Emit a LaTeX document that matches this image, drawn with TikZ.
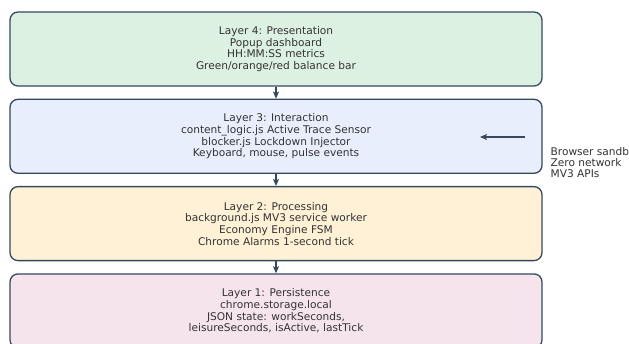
\documentclass[tikz,border=0pt]{standalone}
\usepackage{fontspec}
\setmainfont{DejaVu Sans}
\usepackage{tikz}
\usetikzlibrary{positioning}
\usetikzlibrary{arrows.meta}
\definecolor{edgeblue}{HTML}{34495E}
\definecolor{textgray}{HTML}{333333}
\definecolor{greenfill}{HTML}{DDF1E2}
\definecolor{bluefill}{HTML}{E8EEFB}
\definecolor{yellowfill}{HTML}{FEF1D6}
\definecolor{pinkfill}{HTML}{F6E4EC}

\begin{document}
\begin{tikzpicture}[
            x = 1pt, y = -1pt,
            > = {Stealth[length=7pt, width=6pt, inset=1.5pt]}, % arrow head style
            node distance = 12pt, % gap between layers
            semithick % line style
        ]

        \tikzstyle{layer}=[
            draw = edgeblue,
            line width = 1.3pt,
            rounded corners = 8pt,
            minimum width = 532pt,
            minimum height = 74pt,
            align = center,
            text = textgray,
            font = \fontsize{10.6}{11.7}\selectfont
        ]
        \tikzstyle{link}=[->, draw = edgeblue, fill = edgeblue, line width = 1.1pt]

        \useasboundingbox (0,0) rectangle (629,343);
        \clip (0,0) rectangle (629,343);

	% layers, top to bottom
        \node[layer, fill = greenfill] (L4) at (276,49) {Layer 4: Presentation\\Popup dashboard\\HH:MM:SS metrics\\Green/orange/red balance bar};
        \node[layer, fill = bluefill] (L3) [below = of L4] {Layer 3: Interaction\\content\_logic.js Active Trace Sensor\\blocker.js Lockdown Injector\\Keyboard, mouse, pulse events};
        \node[layer, fill = yellowfill] (L2) [below = of L3] {Layer 2: Processing\\background.js MV3 service worker\\Economy Engine FSM\\Chrome Alarms 1-second tick};
        \node[layer, fill = pinkfill] (L1) [below = of L2] {Layer 1: Persistence\\chrome.storage.local\\JSON state: workSeconds,\\leisureSeconds, isActive, lastTick};

        \draw[link] (L4) -- (L3);
        \draw[link] (L3) -- (L2);
        \draw[link] (L2) -- (L1);

         % browser side note
         \coordinate (S) at (525,137);
         \coordinate (T) at (480,137);
         \draw[link] (S) -- (T);
         \node[anchor = west, align = left, text = textgray, font = \fontsize{10.6}{11}\selectfont] (note) at (547,163) {Browser sandb\\Zero network\\MV3 APIs};

  \end{tikzpicture}
\end{document}
